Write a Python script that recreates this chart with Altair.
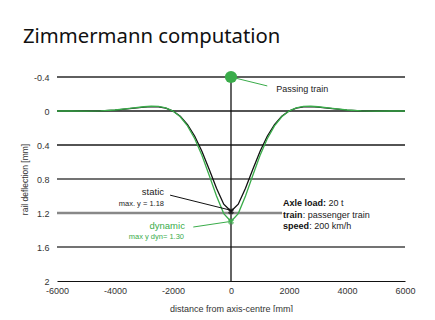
import altair as alt
import pandas as pd

# ---- data ----
x_mm = [-6000, -5500, -5000, -4500, -4000, -3500, -3000, -2750, -2500, -2250,
        -2000, -1750, -1500, -1250, -1000, -750, -500, -250, 0,
        250, 500, 750, 1000, 1250, 1500, 1750, 2000, 2250, 2500, 2750,
        3000, 3500, 4000, 4500, 5000, 5500, 6000]
static_mm = [0.000, 0.000, 0.001, -0.002, -0.011, -0.027, -0.045, -0.051, -0.049, -0.034,
             0.001, 0.062, 0.159, 0.297, 0.476, 0.688, 0.908, 1.096, 1.180,
             1.096, 0.908, 0.688, 0.476, 0.297, 0.159, 0.062, 0.001, -0.034, -0.049, -0.051,
             -0.045, -0.027, -0.011, -0.002, 0.001, 0.000, 0.000]
dynamic_mm = [0.000, 0.000, 0.001, -0.002, -0.012, -0.030, -0.050, -0.056, -0.054, -0.037,
              0.001, 0.068, 0.175, 0.327, 0.524, 0.758, 1.000, 1.207, 1.300,
              1.207, 1.000, 0.758, 0.524, 0.327, 0.175, 0.068, 0.001, -0.037, -0.054, -0.056,
              -0.050, -0.030, -0.012, -0.002, 0.001, 0.000, 0.000]

y_ticks = [-0.4, 0, 0.4, 0.8, 1.2, 1.6, 2]
x_ticks = [-6000, -4000, -2000, 0, 2000, 4000, 6000]

grid_y = [-0.4, 0, 0.4, 0.8, 1.6]
grid_color = ["#2a2a2a", "#1a1a1a", "#1a1a1a", "#444444", "#444444"]

GREEN = "#3aac4a"
FONT = "Liberation Sans"

curves = pd.DataFrame({
    "x": x_mm * 2,
    "y": static_mm + dynamic_mm,
    "series": ["static"] * len(x_mm) + ["dynamic"] * len(x_mm),
    "order": list(range(len(x_mm))) * 2,
})

xscale = alt.Scale(domain=[-6000, 6000], nice=False, zero=False)
yscale = alt.Scale(domain=[-0.4, 2], reverse=True, nice=False, zero=False)

X = alt.X("x:Q", scale=xscale,
          axis=alt.Axis(values=x_ticks, labelExpr="'' + datum.value", grid=False,
                        ticks=False, domain=True, domainColor="#111111", domainWidth=1.2,
                        labelFlush=False,
                        labelFont=FONT, labelFontSize=9, labelColor="#333333", labelPadding=5,
                        title="distance from axis-centre [mm]", titleFont=FONT,
                        titleFontSize=9, titleFontWeight="normal", titleColor="#333333",
                        titlePadding=9))
Y = alt.Y("y:Q", scale=yscale,
          axis=alt.Axis(values=y_ticks, labelExpr="'' + datum.value", grid=False,
                        ticks=False, domain=False, labelFlush=False,
                        labelFont=FONT, labelFontSize=9, labelColor="#333333", labelPadding=8,
                        title="rail deflection [mm]", titleFont=FONT, titleFontSize=8.5,
                        titleFontWeight="normal", titleColor="#333333", titlePadding=4))

# grid lines
grid_df = pd.DataFrame({"y": grid_y, "x": [-6000] * len(grid_y), "x2": [6000] * len(grid_y),
                        "c": grid_color})
grid = alt.Chart(grid_df).mark_rule(strokeWidth=1.4).encode(
    x=X, x2="x2:Q", y=Y, color=alt.Color("c:N", scale=None))

grid12 = alt.Chart(pd.DataFrame({"x": [-6000], "x2": [1760], "y": [1.2]})).mark_rule(
    strokeWidth=2.4, color="#888888").encode(x=X, x2="x2:Q", y=Y)

vline = alt.Chart(pd.DataFrame({"x": [0], "y": [-0.4], "y2": [2]})).mark_rule(
    strokeWidth=1.3, color="#111111").encode(x=X, y=Y, y2="y2:Q")

lines = alt.Chart(curves).mark_line(strokeWidth=1.3).encode(
    x=X, y=Y, order="order:Q",
    color=alt.Color("series:N", scale=alt.Scale(domain=["dynamic", "static"],
                                                range=[GREEN, "#111111"]), legend=None),
    detail="series:N")

# leader lines
lead_df = pd.DataFrame({
    "x": [-2100, -1300, 0],
    "y": [0.99, 1.365, -0.4],
    "x2": [-40, -30, 1250],
    "y2": [1.165, 1.30, -0.295],
    "c": ["#111111", GREEN, GREEN],
})
leaders = alt.Chart(lead_df).mark_rule(strokeWidth=1).encode(
    x=X, y=Y, x2="x2:Q", y2="y2:Q", color=alt.Color("c:N", scale=None))

# markers
mk_df = pd.DataFrame({"x": [0, 0], "y": [1.18, 1.30], "c": ["#111111", GREEN]})
markers = alt.Chart(mk_df).mark_point(shape="cross", angle=45, size=40, filled=True).encode(
    x=X, y=Y, color=alt.Color("c:N", scale=None))

circle = alt.Chart(pd.DataFrame({"x": [0], "y": [-0.4]})).mark_circle(
    size=150, color=GREEN, opacity=1).encode(x=X, y=Y)

# annotation texts
right_txt = pd.DataFrame({
    "x": [-2310, -2310, -1590, -1620],
    "y": [0.953, 1.094, 1.353, 1.482],
    "t": ["static", "max. y = 1.18", "dynamic", "max y dyn= 1.30"],
    "s": [9.5, 7.5, 9.5, 7.5],
    "c": ["#222222", "#222222", GREEN, GREEN],
})
rtext = alt.Chart(right_txt).mark_text(align="right", baseline="middle", font=FONT).encode(
    x=X, y=Y, text="t:N", size=alt.Size("s:Q", scale=None), color=alt.Color("c:N", scale=None))

left_txt = pd.DataFrame({
    "x": [1560, 3360, 2470, 2700],
    "y": [-0.26, 1.082, 1.22, 1.353],
    "t": ["Passing train", "20 t", ": passenger train", ": 200 km/h"],
})
ltext = alt.Chart(left_txt).mark_text(align="left", baseline="middle", font=FONT,
                                      fontSize=9, color="#222222").encode(x=X, y=Y, text="t:N")

bold_txt = pd.DataFrame({
    "x": [1793, 1793, 1793],
    "y": [1.082, 1.22, 1.353],
    "t": ["Axle load:", "train", "speed"],
})
btext = alt.Chart(bold_txt).mark_text(align="left", baseline="middle", font=FONT,
                                      fontSize=9, fontWeight="bold", color="#111111").encode(
    x=X, y=Y, text="t:N")

title = alt.Chart(pd.DataFrame({"t": ["Zimmermann computation"]})).mark_text(
    align="left", baseline="alphabetic", font="Noto Sans", fontSize=20.3, color="#111111").encode(
    x=alt.value(-34), y=alt.value(-34), text="t:N")

chart = alt.layer(grid, grid12, vline, lines, leaders, markers, circle,
                  rtext, ltext, btext, title).properties(
    width=348, height=204,
    autosize=alt.AutoSizeParams(type="none"),
    padding={"left": 49, "top": 69, "right": 22, "bottom": 31},
    background="white",
).configure_view(stroke=None)

chart.save("out.html", embed_options={"renderer": "svg", "actions": False})
